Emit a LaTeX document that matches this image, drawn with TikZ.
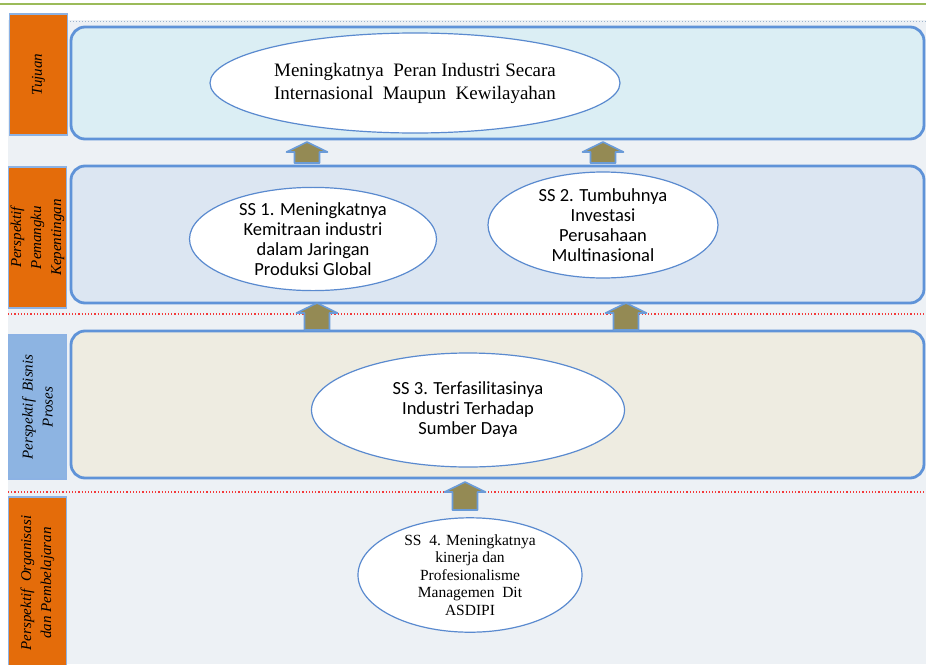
\documentclass[tikz,border=0pt]{standalone}
\usepackage{fontspec}
\setmainfont{Liberation Serif}
\newfontfamily\calibri{Carlito}
\usepackage{tikz}
\usetikzlibrary{shapes.geometric}
\usetikzlibrary{positioning}
\definecolor{labelorange}{HTML}{E46C0A}
\definecolor{labelblue}{HTML}{8DB4E2}
\definecolor{labelborder}{HTML}{8CB2E4}
\definecolor{laneblue}{HTML}{5F93D8}
\definecolor{ellipseblue}{HTML}{5A8ACF}
\definecolor{arrowolive}{HTML}{948A54}
\definecolor{arrowborder}{HTML}{6A9BD8}
\definecolor{bggray}{HTML}{EDF1F5}
\definecolor{lanetop}{HTML}{DBEEF4}
\definecolor{lanemid}{HTML}{DCE6F2}
\definecolor{lanelow}{HTML}{EEECE1}
\definecolor{greenline}{HTML}{9BBB59}
\definecolor{reddot}{HTML}{F23A3A}
\definecolor{bluedot}{HTML}{9DB3CC}
\tikzset{
    labelbox/.style={
        rotate=90,
        draw=labelborder,
        line width=1.2pt,
        minimum height=58pt,
        inner sep=0pt,
        align=center,
        font=\itshape\fontsize{15}{20}\selectfont
    },
    lane/.style={
        draw=laneblue,
        line width=2.8pt,
        rounded corners=14pt,
        minimum width=853pt,
        inner sep=0pt
    },
    goal/.style={
        ellipse,
        draw=ellipseblue,
        line width=1.2pt,
        fill=white,
        inner sep=0pt,
        align=center
    },
    ssfont/.style={
        font=\calibri\fontsize{18.5}{20}\selectfont
    },
    uparrow/.style={
        draw=arrowborder,
        line width=1.6pt,
        fill=arrowolive,
        line join=round
    }
}
\newcommand{\blockarrow}[3]{%
    \draw[uparrow] (#1,#2) -- ({#1+20.5},{#2+10}) -- ({#1+12.5},{#2+10})
        -- ({#1+12.5},#3) -- ({#1-12.5},#3) -- ({#1-12.5},{#2+10})
        -- ({#1-20.5},{#2+10}) -- cycle;
}
\begin{document}
\begin{tikzpicture}[x=1pt,y=-1pt]
\clip (0,0) rectangle (926,664);
\useasboundingbox (0,0) rectangle (926,664);
\fill[bggray] (8,20) rectangle (926,664);
\draw[greenline, line width=1.8pt] (0,4) -- (926,4);
\draw[bluedot, line width=1pt, dotted] (67,21) -- (926,21);
\draw[reddot, line width=1.2pt, dotted] (8,314) -- (926,314);
\draw[reddot, line width=1.2pt, dotted] (8,492) -- (926,492);

\node[lane, fill=lanetop, minimum height=112pt] (lanegoal) at (497.5,83) {};
\node[lane, fill=lanemid, minimum height=137pt] (lanestake) at (497.5,234.5) {};
\node[lane, fill=lanelow, minimum height=147pt] (laneproc) at (497.5,404.5) {};

\node[labelbox, fill=labelorange, minimum width=121pt] (tujuan) at (38.5,74.5) {Tujuan};
\node[labelbox, fill=labelorange, minimum width=141pt] (stake) at (37.5,237.5)
    {Perspektif\\Pemangku\\Kepentingan};
\node[labelbox, fill=labelblue, minimum width=144pt] (bisnis) at (37.5,407)
    {Perspektif\ \ Bisnis\\Proses};
\node[labelbox, fill=labelorange, minimum width=172pt] (organisasi) at (37.5,583)
    {Perspektif\ \ Organisasi\\dan Pembelajaran};

\blockarrow{307}{142}{163}
\blockarrow{603}{142}{163}
\blockarrow{317}{303}{330}
\blockarrow{626}{303}{330}
\blockarrow{465}{482}{510}

\node[goal, minimum width=410pt, minimum height=100pt,
    font=\fontsize{19}{23}\selectfont] (peran) at (415,83)
    {Meningkatnya\ \ Peran\ Industri Secara\\Internasional\ \ Maupun\ \ Kewilayahan};
\node[goal, ssfont, minimum width=247pt, minimum height=98pt] (ssone) at (313,239)
    {SS 1. Meningkatnya\\Kemitraan industri\\dalam Jaringan\\Produksi Global};
\node[goal, ssfont, minimum width=230pt, minimum height=106pt] (sstwo) at (603,225)
    {SS 2. Tumbuhnya\\Investasi\\Perusahaan\\Multinasional};
\node[goal, ssfont, minimum width=313pt, minimum height=114pt] (ssthree) at (468,410)
    {SS 3. Terfasilitasinya\\Industri Terhadap\\Sumber Daya};
\node[goal, minimum width=224pt, minimum height=110pt,
    font=\fontsize{15.5}{17.5}\selectfont] (ssfour) at (470,575)
    {SS\ \ 4. Meningkatnya\\kinerja dan\\Profesionalisme\\Managemen\ \ Dit\\ASDIPI};
\end{tikzpicture}
\end{document}
